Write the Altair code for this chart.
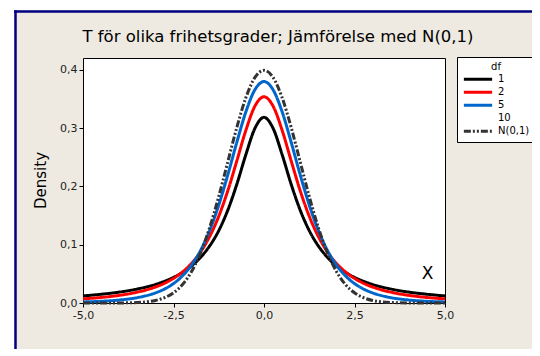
import altair as alt
import pandas as pd

x_vals = [-5, -4.5, -4, -3.5, -3, -2.75, -2.5, -2.25, -2, -1.75, -1.5, -1.25, -1, -0.75, -0.5, -0.25,
          0, 0.25, 0.5, 0.75, 1, 1.25, 1.5, 1.75, 2, 2.25, 2.5, 2.75, 3, 3.5, 4, 4.5, 5]
t1 = [0.0122, 0.0150, 0.0187, 0.0240, 0.0318, 0.0372, 0.0439, 0.0525, 0.0637, 0.0785, 0.0979, 0.1241,
      0.1592, 0.2037, 0.2546, 0.2996, 0.3183, 0.2996, 0.2546, 0.2037, 0.1592, 0.1241, 0.0979, 0.0785,
      0.0637, 0.0525, 0.0439, 0.0372, 0.0318, 0.0240, 0.0187, 0.0150, 0.0122]
t2 = [0.0071, 0.0095, 0.0131, 0.0186, 0.0274, 0.0338, 0.0422, 0.0533, 0.0680, 0.0878, 0.1141, 0.1487,
      0.1925, 0.2438, 0.2963, 0.3376, 0.3536, 0.3376, 0.2963, 0.2438, 0.1925, 0.1487, 0.1141, 0.0878,
      0.0680, 0.0533, 0.0422, 0.0338, 0.0274, 0.0186, 0.0131, 0.0095, 0.0071]
t5 = [0.0018, 0.0029, 0.0051, 0.0092, 0.0173, 0.0239, 0.0333, 0.0466, 0.0651, 0.0905, 0.1245, 0.1679,
      0.2197, 0.2757, 0.3279, 0.3657, 0.3796, 0.3657, 0.3279, 0.2757, 0.2197, 0.1679, 0.1245, 0.0905,
      0.0651, 0.0466, 0.0333, 0.0239, 0.0173, 0.0092, 0.0051, 0.0029, 0.0018]
norm = [0.0000, 0.0000, 0.0001, 0.0009, 0.0044, 0.0091, 0.0175, 0.0317, 0.0540, 0.0863, 0.1295, 0.1826,
        0.2420, 0.3011, 0.3521, 0.3867, 0.3989, 0.3867, 0.3521, 0.3011, 0.2420, 0.1826, 0.1295, 0.0863,
        0.0540, 0.0317, 0.0175, 0.0091, 0.0044, 0.0009, 0.0001, 0.0000, 0.0000]

legend_labels = ["1", "2", "5", "10", "N(0,1)"]
series = {"1": t1, "2": t2, "5": t5, "N(0,1)": norm}
line_colors = ["#000000", "#FF0000", "#0066CC", "transparent", "#333333"]
line_dashes = [[1, 0], [1, 0], [1, 0], [1, 0], [7, 2, 2, 2, 2, 2]]

x_ticks = [-5, -2.5, 0, 2.5, 5]
y_ticks = [0, 0.1, 0.2, 0.3, 0.4]
title_text = "T för olika frihetsgrader; Jämförelse med N(0,1)"

rows = []
for name, vals in series.items():
    for xv, yv in zip(x_vals, vals):
        rows.append({"x": xv, "density": yv, "df": name})
df = pd.DataFrame(rows)

W, H = 362, 245
FONT = "DejaVu Sans"

one = pd.DataFrame({"k": [0]})

top_strip = alt.Chart(one).mark_rect(color="white").encode(
    x=alt.value(-80), x2=alt.value(449), y=alt.value(-52), y2=alt.value(-48))
left_strip = alt.Chart(one).mark_rect(color="white").encode(
    x=alt.value(-80), x2=alt.value(-69), y=alt.value(-52), y2=alt.value(300))
top_rule = alt.Chart(one).mark_rule(color="#000080", strokeWidth=2.5).encode(
    x=alt.value(-69), x2=alt.value(449), y=alt.value(-46.5))
left_rule = alt.Chart(one).mark_rule(color="#000080", strokeWidth=2.5).encode(
    x=alt.value(-67.5), y=alt.value(-47.5), y2=alt.value(300))
title_mark = alt.Chart(one).mark_text(
    text=title_text, font=FONT, fontSize=16.5, color="black", align="center",
    baseline="alphabetic").encode(x=alt.value(195), y=alt.value(-16))

lab = "replace(replace(format(datum.value, '.1f'), '.', ','), '\u2212', '-')"

lines = alt.Chart(df).mark_line(strokeWidth=3, interpolate="monotone").encode(
    x=alt.X("x:Q", scale=alt.Scale(domain=[-5, 5], nice=False),
            axis=alt.Axis(values=x_ticks, title="X", titleX=344, titleY=-30,
                          titleFontSize=17, titleFontWeight="normal", titleFont=FONT,
                          titleAlign="center", titleBaseline="middle",
                          labelFlush=False, labelExpr=lab)),
    y=alt.Y("density:Q", scale=alt.Scale(domain=[0, 0.42], nice=False),
            axis=alt.Axis(values=y_ticks, title="Density", titleX=-43, titleY=122,
                          titleAngle=270, titleFontSize=15, titleFontWeight="normal",
                          titleFont=FONT, titleAlign="center", titleBaseline="middle",
                          labelFlush=False, labelExpr=lab)),
    color=alt.Color("df:N", scale=alt.Scale(domain=legend_labels, range=line_colors),
                    legend=alt.Legend(title="df")),
    strokeDash=alt.StrokeDash("df:N", scale=alt.Scale(domain=legend_labels, range=line_dashes),
                              legend=alt.Legend(title="df")),
)

chart = alt.layer(top_strip, left_strip, top_rule, left_rule, title_mark, lines).properties(
    width=W, height=H,
    padding={"left": 75, "top": 50, "right": 87, "bottom": 46},
    autosize=alt.AutoSizeParams(type="none"),
).configure(background="#EEEAE1").configure_view(
    fill="white", stroke="black", strokeWidth=1
).configure_axis(
    domain=False, grid=False, ticks=True, tickSize=4, tickColor="black",
    labelFont=FONT, labelFontSize=11, labelColor="#222222", labelPadding=2,
).configure_legend(
    orient="none", legendX=374, legendY=-1, fillColor="white", strokeColor="black",
    padding=5, symbolType="stroke", symbolSize=800, symbolStrokeWidth=3,
    labelFont=FONT, labelFontSize=10, labelColor="black", titleFont=FONT,
    titleFontSize=10, titleFontWeight="normal", titleAnchor="middle", rowPadding=2,
    titlePadding=2, clipHeight=10.5,
)

chart.save("out.html", embed_options={"renderer": "svg", "actions": False})
